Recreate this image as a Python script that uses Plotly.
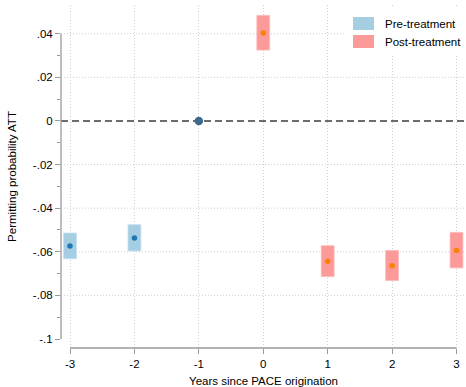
import plotly.graph_objects as go

# Event-study estimates: permitting probability ATT by years since PACE origination
pre_years = [-3, -2]
pre_att = [-0.0573, -0.0537]
pre_lo = [-0.0632, -0.0596]
pre_hi = [-0.0514, -0.0476]

ref_year = [-1]
ref_att = [0.0]

post_years = [0, 1, 2, 3]
post_att = [0.0403, -0.0644, -0.0664, -0.0594]
post_lo = [0.0325, -0.0714, -0.0732, -0.0674]
post_hi = [0.0484, -0.0572, -0.0594, -0.0511]

x_ticks = [-3, -2, -1, 0, 1, 2, 3]
y_ticks = [0.04, 0.02, 0.0, -0.02, -0.04, -0.06, -0.08, -0.10]
y_tick_text = [".04", ".02", "0", "-.02", "-.04", "-.06", "-.08", "-.1"]
y_minor = [0.03, 0.01, -0.01, -0.03, -0.05, -0.07, -0.09]
y_grid = [0.04, 0.02, -0.02, -0.04, -0.06, -0.08]

PRE_FILL = "#a6cee3"
POST_FILL = "#fb9a99"
PRE_DOT = "#1f78b4"
POST_DOT = "#ff7f00"
AXIS = "#9a9a9a"
GRID = "#cfcfcf"
DOTS = "1px,2px"
FONT = "Liberation Sans, Arial, Helvetica, sans-serif"

fig = go.Figure()

# Confidence intervals as floating bars
fig.add_trace(go.Bar(
    x=pre_years, base=pre_lo, y=[h - l for h, l in zip(pre_hi, pre_lo)],
    width=0.2, marker=dict(color=PRE_FILL, line=dict(color="#c3def0", width=0.8)),
    showlegend=False, hoverinfo="skip",
))
fig.add_trace(go.Bar(
    x=post_years, base=post_lo, y=[h - l for h, l in zip(post_hi, post_lo)],
    width=0.2, marker=dict(color=POST_FILL, line=dict(color="#fdbcbb", width=0.8)),
    showlegend=False, hoverinfo="skip",
))

# Point estimates
fig.add_trace(go.Scatter(
    x=pre_years, y=pre_att, mode="markers",
    marker=dict(color=PRE_DOT, size=5.5), showlegend=False,
))
fig.add_trace(go.Scatter(
    x=post_years, y=post_att, mode="markers",
    marker=dict(color=POST_DOT, size=5.5), showlegend=False,
))
fig.add_trace(go.Scatter(
    x=ref_year, y=ref_att, mode="markers",
    marker=dict(color="#3b6a8d", size=8.5), showlegend=False,
))

shapes = []
# Horizontal dotted grid
for g in y_grid:
    shapes.append(dict(type="line", xref="paper", x0=0, x1=1, yref="y", y0=g, y1=g,
                       line=dict(color=GRID, width=1, dash=DOTS), layer="below"))
# Zero reference line
shapes.append(dict(type="line", xref="paper", x0=0, x1=1, yref="y", y0=0, y1=0,
                   line=dict(color="#3c3c3c", width=1.4, dash="7px,4px"), layer="between"))
# Axis lines spanning the tick range
shapes.append(dict(type="line", xref="paper", x0=0, x1=0, yref="y",
                   y0=min(y_ticks), y1=max(y_ticks),
                   line=dict(color=AXIS, width=1.3), layer="above"))
shapes.append(dict(type="line", xref="x", x0=min(x_ticks), x1=max(x_ticks),
                   yref="paper", y0=0, y1=0,
                   line=dict(color=AXIS, width=1.3), layer="above"))

# Legend box
W, H = 466, 387
L, R, T, B = 61, 0, 5, 39
pw, ph = W - L - R, H - T - B


def px_x(px):
    return (px - L) / pw


def px_y(py):
    return 1 - (py - T) / ph


shapes.append(dict(type="rect", xref="paper", yref="paper",
                   x0=px_x(345), x1=px_x(466), y0=px_y(55), y1=px_y(7),
                   fillcolor="white", line=dict(width=0), layer="above"))
legend_items = [("Pre-treatment", PRE_FILL, 17), ("Post-treatment", POST_FILL, 35)]
annotations = []
for label, col, top in legend_items:
    shapes.append(dict(type="rect", xref="paper", yref="paper",
                       x0=px_x(353), x1=px_x(374), y0=px_y(top + 13), y1=px_y(top),
                       fillcolor=col, line=dict(width=0), layer="above"))
    annotations.append(dict(xref="paper", yref="paper", x=px_x(383), y=px_y(top + 6.8),
                            text=label, showarrow=False, xanchor="left", yanchor="middle",
                            font=dict(family=FONT, size=11.5, color="black")))

x_scale = (456.5 - 70) / 6
y_scale = (339 - 33.7) / 0.14
y_zero = 33.7 + 0.04 * y_scale

fig.update_layout(
    width=W, height=H,
    margin=dict(l=L, r=R, t=T, b=B),
    paper_bgcolor="white", plot_bgcolor="white",
    barmode="overlay",
    font=dict(family=FONT, size=11.5, color="black"),
    shapes=shapes,
    annotations=annotations,
    xaxis=dict(
        range=[-3 - (70 - L) / x_scale, 3 + (W - R - 456.5) / x_scale],
        tickmode="array", tickvals=x_ticks, ticktext=[str(v) for v in x_ticks],
        ticks="outside", ticklen=5, tickwidth=1.3, tickcolor=AXIS,
        showgrid=True, gridcolor=GRID, griddash=DOTS, gridwidth=1,
        showline=False, zeroline=False,
        title=dict(text="Years since PACE origination", standoff=8,
                   font=dict(size=11.5)),
    ),
    yaxis=dict(
        range=[-(H - B - y_zero) / y_scale, (y_zero - T) / y_scale],
        tickmode="array", tickvals=y_ticks, ticktext=y_tick_text,
        ticks="outside", ticklen=5, tickwidth=1.3, tickcolor=AXIS,
        minor=dict(tickmode="array", tickvals=y_minor, ticks="outside",
                   ticklen=3, tickwidth=1.3, tickcolor=AXIS, showgrid=False),
        showgrid=False, showline=False, zeroline=False,
        title=dict(text="Permitting probability ATT", standoff=13,
                   font=dict(size=11.5)),
    ),
)

fig.write_html("out.html")
